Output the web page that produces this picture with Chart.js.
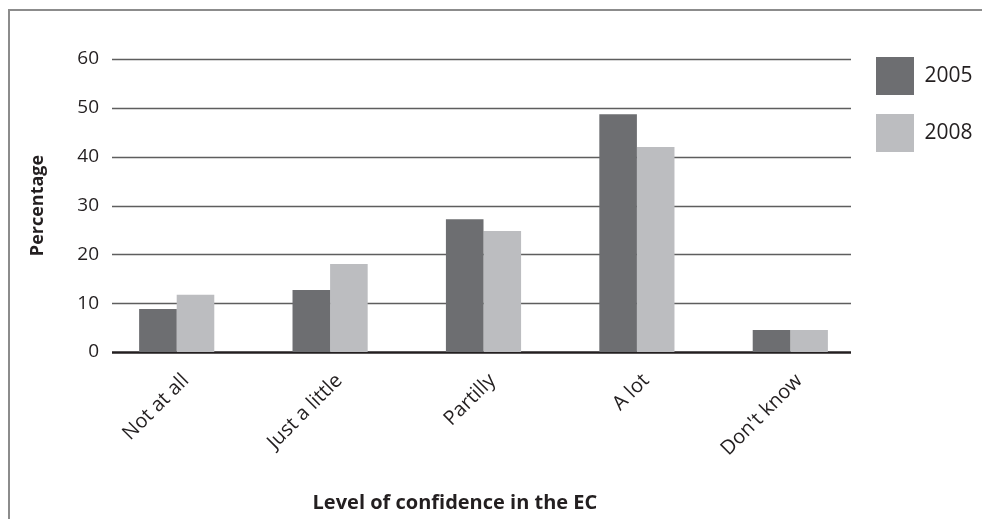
<!DOCTYPE html>
<html>
<head>
<meta charset="utf-8">
<script src="https://cdn.jsdelivr.net/npm/chart.js@4"></script>
<style>
  html,body{margin:0;padding:0;background:#fff;}
  #wrap{position:relative;width:982px;height:519px;overflow:hidden;}
  #frame{position:absolute;left:8px;top:9px;width:1100px;height:700px;border:2px solid #8c8c8c;box-sizing:border-box;}
  canvas{position:absolute;left:0;top:0;}
</style>
</head>
<body>
<div id="wrap">
  <div id="frame"></div>
  <canvas id="c" width="982" height="519"></canvas>
</div>
<script>
const categories = ['Not at all', 'Just a little', 'Partilly', 'A lot', "Don't know"];
const seriesNames = ['2005', '2008'];
const values2005 = [8.8, 12.7, 27.2, 48.7, 4.5];
const values2008 = [11.7, 18.0, 24.8, 42.0, 4.5];
const yTicks = [0, 10, 20, 30, 40, 50, 60];
const xTitle = 'Level of confidence in the EC';
const yTitle = 'Percentage';

const textColor = '#231f20';

const gridPlugin = {
  id: 'customGrid',
  beforeDatasetsDraw(chart) {
    const {ctx, chartArea, scales} = chart;
    const x0 = chartArea.left + 12, x1 = chartArea.right - 16;
    ctx.save();
    yTicks.forEach(v => {
      const y = Math.round(scales.y.getPixelForValue(v)) + 0.5;
      ctx.beginPath();
      ctx.strokeStyle = v === 0 ? '#231f20' : '#5e5e5e';
      ctx.lineWidth = v === 0 ? 2.5 : 1.6;
      ctx.moveTo(x0, y);
      ctx.lineTo(x1, y);
      ctx.stroke();
    });
    ctx.restore();
  }
};

const legendShift = {
  id: 'legendShift',
  afterInit(chart) {
    const lg = chart.legend;
    if (lg) {
      const f = lg.fit.bind(lg);
      lg.fit = function () { f(); this.width = 115; };
    }
  },
  afterLayout(chart) {
    const lg = chart.legend;
    if (lg) { lg.left -= 10; lg.right -= 10; }
  }
};

new Chart(document.getElementById('c'), {
  type: 'bar',
  data: {
    labels: categories,
    datasets: [
      { label: seriesNames[0], data: values2005, backgroundColor: '#6d6e71', borderWidth: 0 },
      { label: seriesNames[1], data: values2008, backgroundColor: '#bcbdc0', borderWidth: 0 }
    ]
  },
  options: {
    responsive: false,
    animation: false,
    devicePixelRatio: 1,
    categoryPercentage: 0.49,
    barPercentage: 1,
    layout: { padding: { top: 38, left: 0, right: 0, bottom: 0 } },
    plugins: {
      tooltip: { enabled: false },
      title: { display: true, text: '', font: { size: 1, lineHeight: 1 }, padding: 10 },
      legend: {
        position: 'right',
        align: 'start',
        labels: {
          boxWidth: 38,
          boxHeight: 38,
          padding: 19,
          color: textColor,
          font: { family: 'Open Sans', size: 21 }
        }
      }
    },
    scales: {
      x: {
        grid: { display: false, drawTicks: false },
        border: { display: false },
        ticks: {
          color: textColor,
          font: { family: 'Open Sans', size: 20 },
          minRotation: 45, maxRotation: 45,
          padding: 17,
          labelOffset: 9
        },
        title: {
          display: true,
          text: xTitle + '\u00a0'.repeat(11),
          color: textColor,
          font: { family: 'Open Sans', size: 20, weight: 'bold' },
          padding: { top: 0, bottom: 4 }
        },
        afterFit(s) { s.height = 167; }
      },
      y: {
        min: 0, max: 60,
        grid: { display: false, drawTicks: false },
        border: { display: false },
        ticks: {
          stepSize: 10,
          color: textColor,
          font: { family: 'Open Sans', size: 19 },
          padding: 1
        },
        title: {
          display: true,
          text: yTitle,
          color: textColor,
          font: { family: 'Open Sans', size: 18, weight: 'bold' },
          padding: { top: 27, bottom: 0 }
        },
        afterFit(s) { s.width = 100; }
      }
    }
  },
  plugins: [gridPlugin, legendShift]
});
</script>
</body>
</html>
